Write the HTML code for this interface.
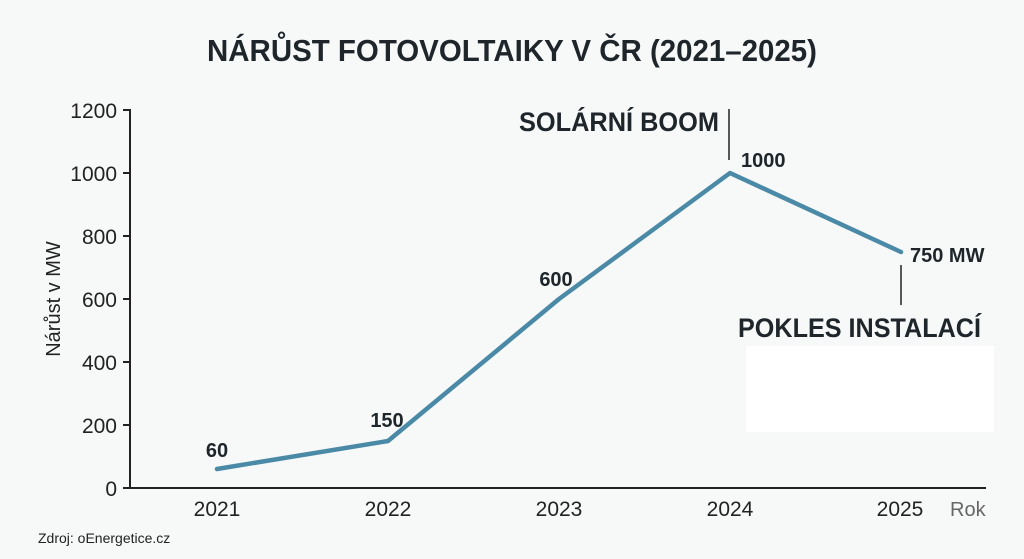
<!DOCTYPE html>
<html><head><meta charset="utf-8"><style>
html,body{margin:0;padding:0;background:#f7f8f8;}
svg{display:block;font-family:"Liberation Sans",sans-serif;}
</style></head><body>
<svg width="1024" height="559" viewBox="0 0 1024 559">
<rect width="1024" height="559" fill="#f7f8f8"/>
<rect x="746" y="346" width="248" height="86" fill="#ffffff"/>
<text x="512" y="61" text-anchor="middle" font-size="31" font-weight="bold" fill="#1e252b" textLength="610" lengthAdjust="spacingAndGlyphs">NÁRŮST FOTOVOLTAIKY V ČR (2021–2025)</text>
<g stroke="#222" stroke-width="2" fill="none">
<line x1="130" y1="109" x2="130" y2="489"/>
<line x1="129" y1="488" x2="986" y2="488"/>
<line x1="123" y1="110" x2="130" y2="110"/>
<line x1="123" y1="173" x2="130" y2="173"/>
<line x1="123" y1="236" x2="130" y2="236"/>
<line x1="123" y1="299" x2="130" y2="299"/>
<line x1="123" y1="362" x2="130" y2="362"/>
<line x1="123" y1="425" x2="130" y2="425"/>
<line x1="123" y1="488" x2="130" y2="488"/>
</g>
<g font-size="21" fill="#222" text-anchor="end">
<text x="117" y="118">1200</text>
<text x="117" y="181">1000</text>
<text x="117" y="244">800</text>
<text x="117" y="307">600</text>
<text x="117" y="370">400</text>
<text x="117" y="433">200</text>
<text x="117" y="496">0</text>
</g>
<text transform="translate(60,299) rotate(-90)" text-anchor="middle" font-size="20" fill="#222">Nárůst v MW</text>
<g font-size="21" fill="#222" text-anchor="middle">
<text x="217" y="516">2021</text>
<text x="388" y="516">2022</text>
<text x="559" y="516">2023</text>
<text x="730" y="516">2024</text>
<text x="900" y="516">2025</text>
</g>
<text x="950" y="516" font-size="20" fill="#666">Rok</text>
<text x="38" y="543" font-size="14" fill="#222">Zdroj:  oEnergetice.cz</text>
<polyline points="217,469 388,441 559,299 730,173 901,252" fill="none" stroke="#4a8aa7" stroke-width="4.5" stroke-linejoin="round" stroke-linecap="round"/>
<g font-weight="bold" fill="#1e252b" font-size="20">
<text x="217" y="457" text-anchor="middle">60</text>
<text x="387" y="427" text-anchor="middle">150</text>
<text x="556" y="286" text-anchor="middle">600</text>
<text x="741" y="167">1000</text>
<text x="910" y="262">750 MW</text>
</g>
<line x1="729" y1="109" x2="729" y2="160" stroke="#222" stroke-width="1.5"/>
<line x1="901" y1="265" x2="901" y2="305" stroke="#222" stroke-width="1.5"/>
<text x="719" y="131" text-anchor="end" font-size="27" font-weight="bold" fill="#1e252b" textLength="200" lengthAdjust="spacingAndGlyphs">SOLÁRNÍ BOOM</text>
<text x="738" y="337" font-size="27" font-weight="bold" fill="#1e252b" textLength="243" lengthAdjust="spacingAndGlyphs">POKLES INSTALACÍ</text>
</svg>
</body></html>
